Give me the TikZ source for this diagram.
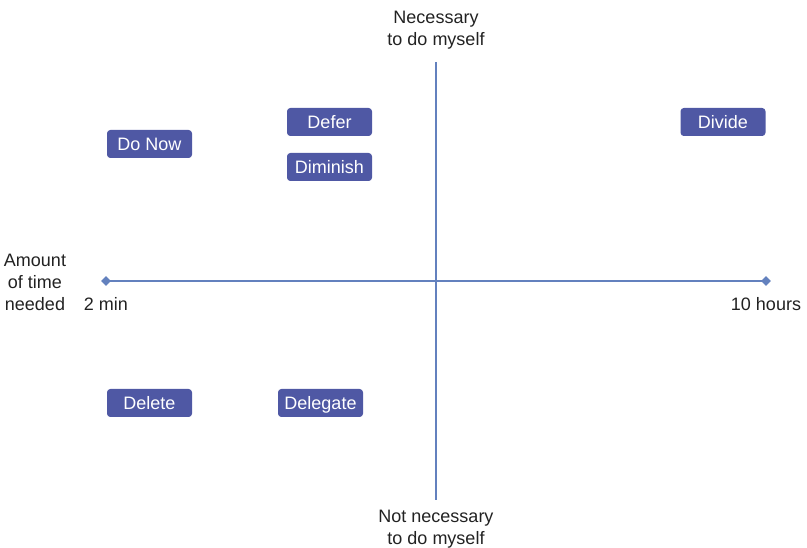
\documentclass[tikz,border=0pt]{standalone}
\usepackage{fontspec}
\setmainfont{Liberation Sans}
\usetikzlibrary{shapes.geometric}
\definecolor{boxblue}{HTML}{4F58A4}
\definecolor{axisblue}{HTML}{6381BE}
\definecolor{labelgray}{HTML}{222222}
\begin{document}
\begin{tikzpicture}[x=0.75pt,y=-0.75pt,
  tag/.style={fill=boxblue, text=white, rounded corners=2.5pt,
    minimum width=63.75pt, minimum height=21pt, inner xsep=0pt,
    inner ysep=0pt, text height=12pt, text depth=2.4pt,
    font=\fontsize{13.5}{16}\selectfont},
  axislabel/.style={text=labelgray, align=center,
    font=\fontsize{13.5}{16.5}\selectfont, inner sep=0pt},
  axis/.style={draw=axisblue, line width=1.6pt},
  tip/.style={diamond, fill=axisblue, inner sep=0pt, minimum size=7.5pt}]
\useasboundingbox (0,0) rectangle (807,548);
% axes
\node[tip] (left) at (106,281) {};
\node[tip] (right) at (766,281) {};
\coordinate (top) at (436,62);
\coordinate (bottom) at (436,500);
\draw[axis] (left.center) -- (right.center);
\draw[axis] (top) -- (bottom);
% axis labels
\node[axislabel] (need) at (436,30) {Necessary\\to do myself};
\node[axislabel] (notneed) at (436,529) {Not necessary\\to do myself};
\node[axislabel] (amount) at (35,282) {Amount\\of time\\needed};
\node[axislabel] (min) at (106,304) {2 min};
\node[axislabel] (hours) at (766,304) {10 hours};
% strategies
\node[tag] (donow) at (149.5,144) {Do Now};
\node[tag] (defer) at (329.5,122) {Defer};
\node[tag] (diminish) at (329.5,167) {Diminish};
\node[tag] (divide) at (723,122) {Divide};
\node[tag] (delete) at (149.5,403) {Delete};
\node[tag] (delegate) at (320.5,403) {Delegate};
\end{tikzpicture}
\end{document}
